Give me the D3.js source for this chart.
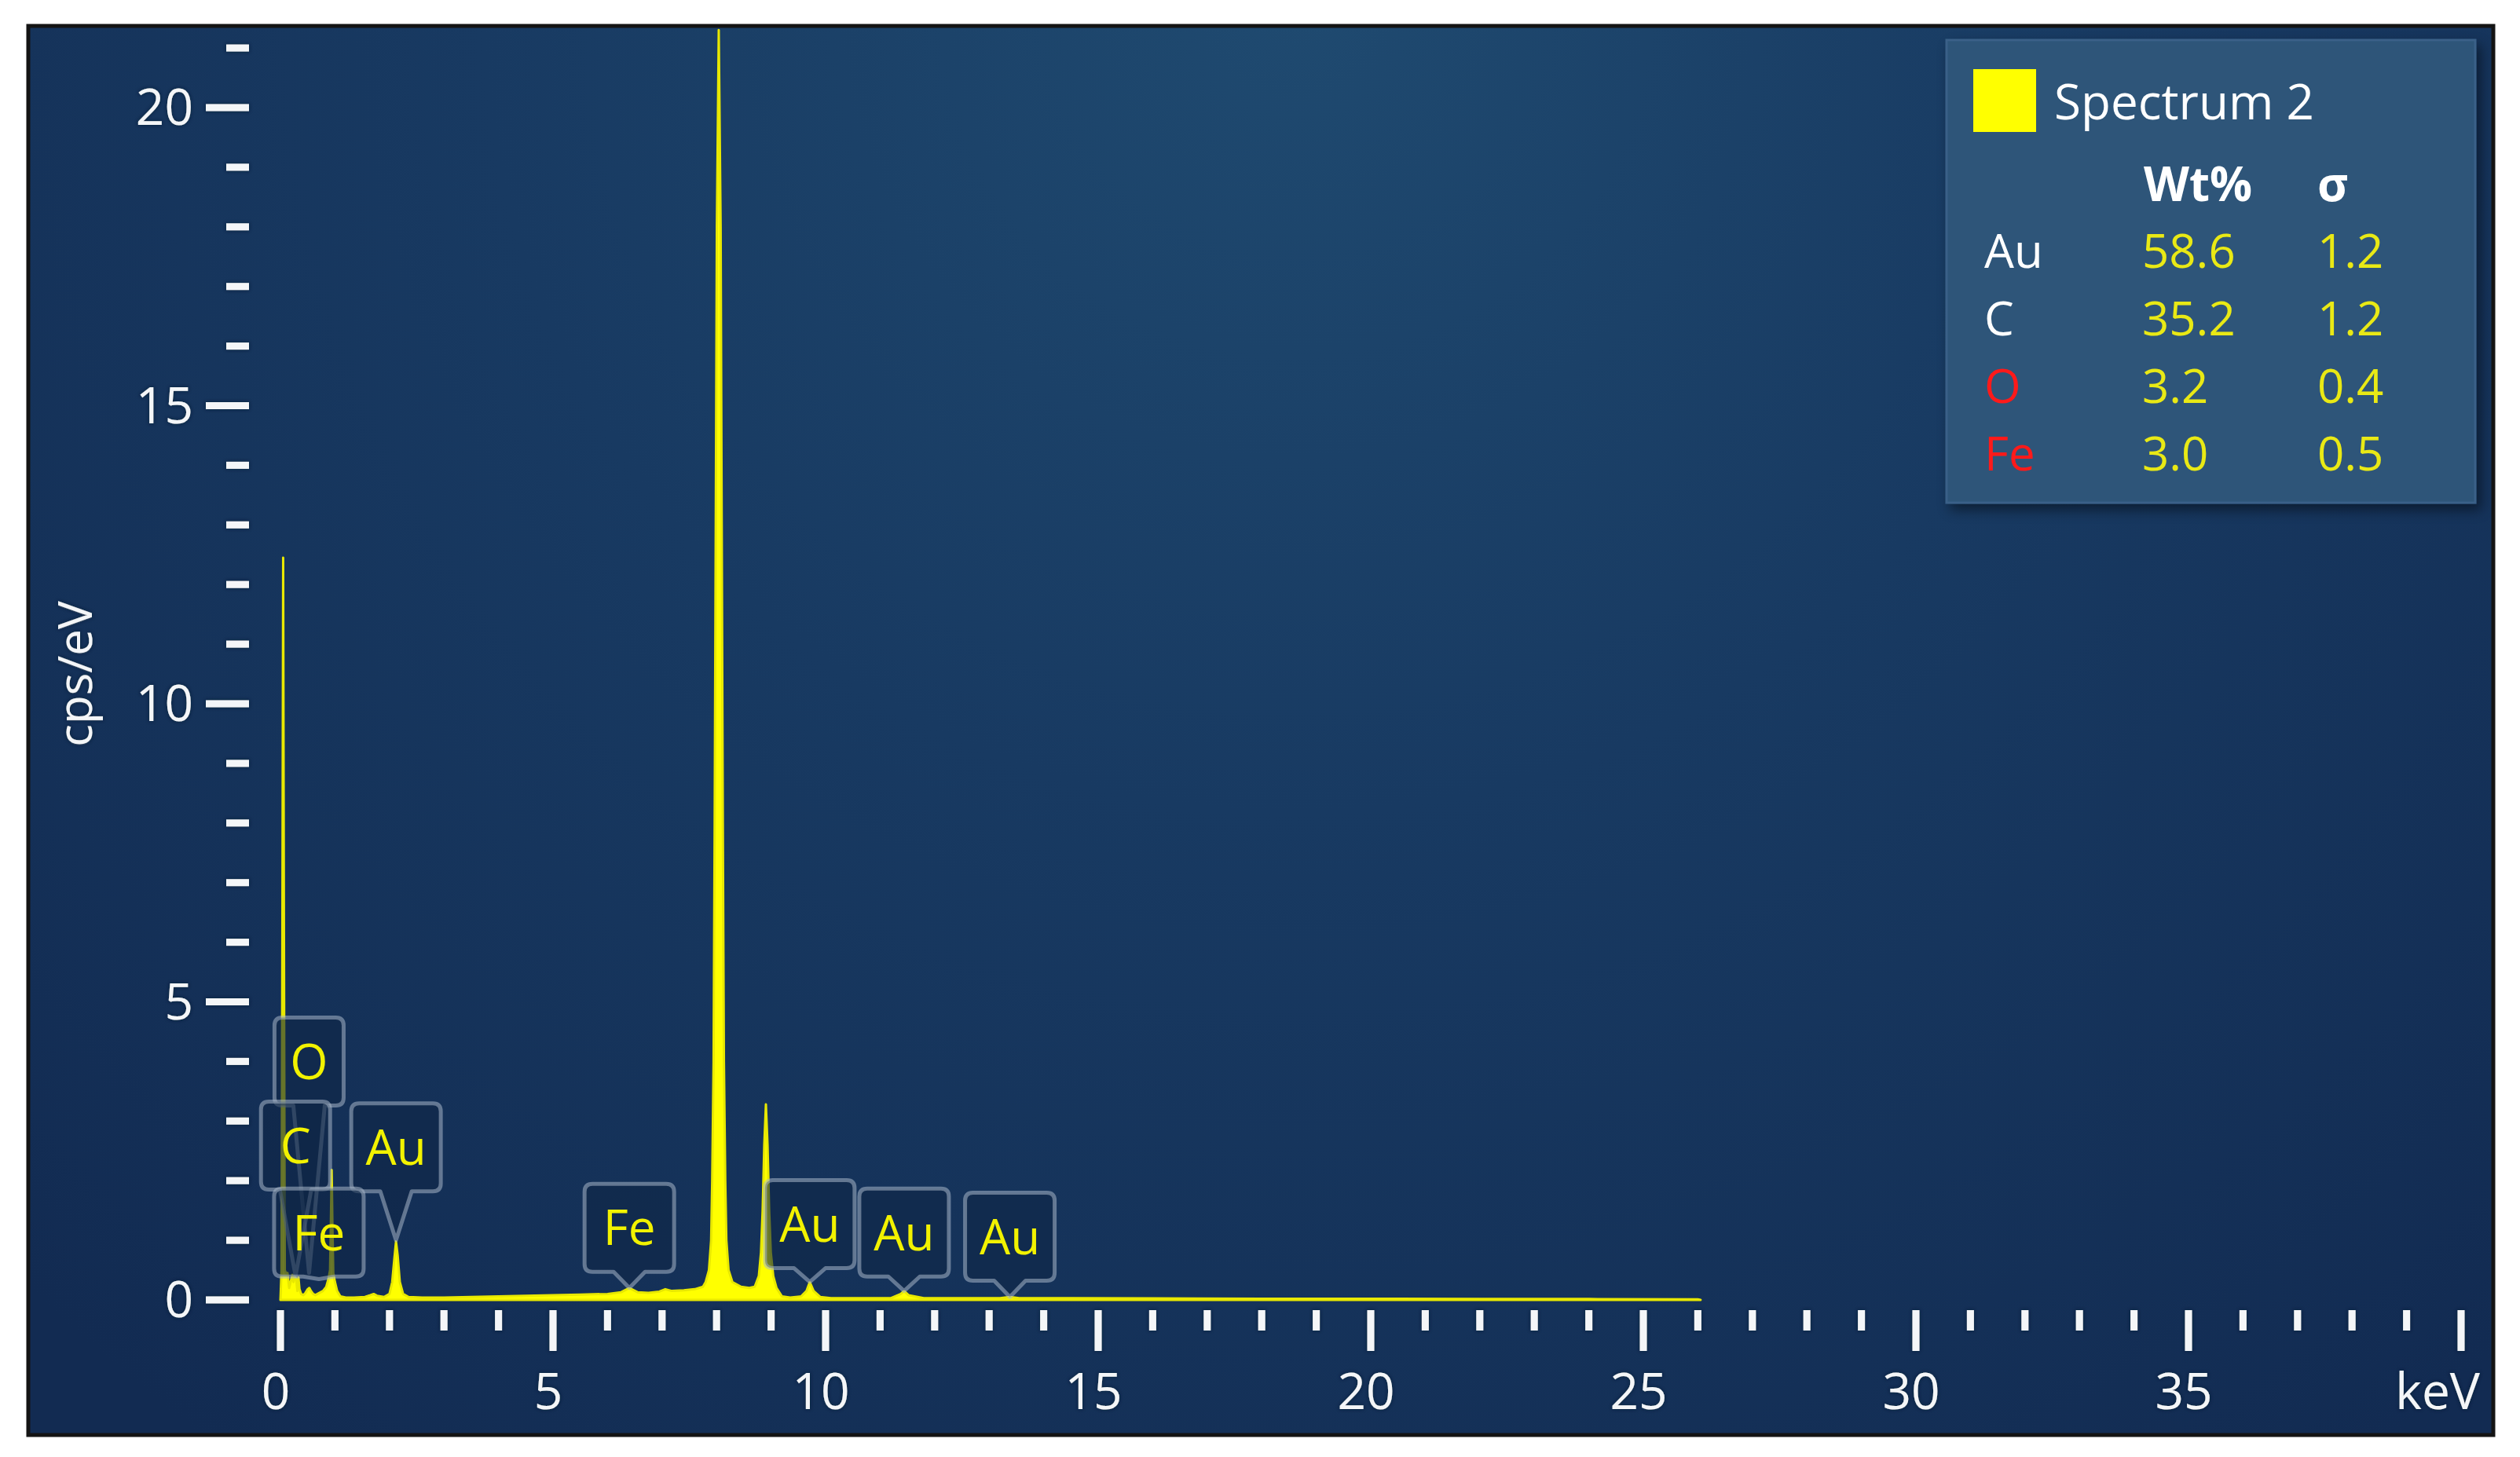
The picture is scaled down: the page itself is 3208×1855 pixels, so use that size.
<!DOCTYPE html>
<html>
<head>
<meta charset="utf-8">
<script src="https://cdn.jsdelivr.net/npm/d3@7"></script>
<style>
  html, body { margin: 0; padding: 0; background: #ffffff; }
  svg { display: block; }
  text { font-family: "Open Sans", "Noto Sans", sans-serif; }
</style>
</head>
<body>
<script>
// ---------- DATA ----------
// spectrum: energy (keV) and intensity (cps/eV)
const energyKeV = [
  0.00, 0.02, 0.035, 0.05, 0.065, 0.08, 0.10, 0.13, 0.16, 0.20, 0.22, 0.24, 0.26, 0.29, 0.31, 0.33, 0.35, 0.38,
  0.42, 0.46, 0.50, 0.53, 0.56, 0.60, 0.64, 0.68, 0.72, 0.78, 0.84, 0.88, 0.91, 0.925, 0.94, 0.955, 0.97, 1.00,
  1.04, 1.10, 1.20, 1.35, 1.55, 1.65, 1.71, 1.77, 1.90, 2.00, 2.05, 2.09, 2.12, 2.15, 2.19, 2.25, 2.35, 2.60,
  3.00, 3.50, 4.00, 4.50, 5.00, 5.50, 6.00, 6.25, 6.40, 6.55, 6.75, 6.95, 7.06, 7.18, 7.40, 7.60, 7.75, 7.80,
  7.86, 7.90, 7.92, 7.945, 7.965, 7.985, 8.005, 8.04, 8.075, 8.095, 8.115, 8.135, 8.16, 8.18, 8.22, 8.29, 8.45,
  8.60, 8.70, 8.775, 8.815, 8.845, 8.875, 8.905, 8.935, 8.965, 8.995, 9.04, 9.10, 9.20, 9.35, 9.55, 9.65, 9.71,
  9.78, 9.90, 10.10, 10.60, 11.20, 11.38, 11.44, 11.52, 11.80, 12.50, 13.20, 13.38, 13.55, 14.50, 16.00, 18.00,
  20.00, 22.00, 24.00, 26.00, 26.05
];
const intensity = [
  0.00, 0.50, 6.00, 12.45, 6.00, 0.50, 0.45, 0.45, 0.20, 0.35, 0.42, 0.30, 0.40, 0.35, 0.15, 0.38, 0.18, 0.10,
  0.08, 0.12, 0.18, 0.20, 0.15, 0.10, 0.08, 0.10, 0.12, 0.15, 0.22, 0.35, 0.50, 1.30, 2.18, 1.20, 0.45, 0.30,
  0.15, 0.06, 0.04, 0.04, 0.05, 0.08, 0.10, 0.07, 0.05, 0.10, 0.30, 0.70, 0.98, 0.75, 0.30, 0.10, 0.05, 0.04,
  0.04, 0.05, 0.06, 0.07, 0.08, 0.09, 0.10, 0.13, 0.20, 0.13, 0.12, 0.14, 0.18, 0.15, 0.16, 0.18, 0.22, 0.30,
  0.50, 1.00, 2.00, 4.00, 8.00, 13.0, 18.0, 21.30, 18.0, 13.0, 8.00, 4.00, 2.00, 1.00, 0.50, 0.30, 0.22,
  0.20, 0.22, 0.40, 0.80, 1.50, 2.60, 3.28, 2.60, 1.50, 0.80, 0.40, 0.20, 0.06, 0.04, 0.06, 0.15, 0.30,
  0.15, 0.05, 0.03, 0.03, 0.03, 0.10, 0.15, 0.08, 0.03, 0.03, 0.03, 0.05, 0.03, 0.03, 0.025, 0.02,
  0.02, 0.015, 0.015, 0.01, 0.00
];

// element markers
const markerElement = ["O", "C", "Au", "Fe", "Fe", "Au", "Au", "Au"];
const markerKeV     = [0.525, 0.277, 2.12, 0.705, 6.40, 9.71, 11.44, 13.38];
const markerBoxCps  = [4.00, 2.59, 2.56, 1.13, 1.21, 1.27, 1.13, 1.06];
const markerTipCps  = [0.45, 0.40, 1.00, 0.35, 0.20, 0.30, 0.15, 0.05];

// legend / quant table
const legendTitle   = "Spectrum 2";
const tableElements = ["Au", "C", "O", "Fe"];
const tableWt       = ["58.6", "35.2", "3.2", "3.0"];
const tableSigma    = ["1.2", "1.2", "0.4", "0.5"];
const tableElemColor = ["#ffffff", "#ffffff", "#ff1a1a", "#ff1a1a"];

// axes
const xMajorTicks = [0, 5, 10, 15, 20, 25, 30, 35];
const xMinorTicks = d3.range(1, 40).filter(v => v % 5 !== 0);
const yMajorTicks = [0, 5, 10, 15, 20];
const yMinorTicks = d3.range(1, 22).filter(v => v % 5 !== 0);
const xUnit = "keV";
const yTitle = "cps/eV";

// ---------- LAYOUT ----------
const W = 3208, H = 1855;
const frame = {x: 36, y: 33, w: 3138, h: 1794};

const svg = d3.select("body").append("svg").attr("width", W).attr("height", H);
const defs = svg.append("defs");

const grad = defs.append("radialGradient").attr("id", "bg")
  .attr("gradientUnits", "userSpaceOnUse")
  .attr("cx", 1650).attr("cy", 0).attr("r", 2300)
  .attr("fx", 1650).attr("fy", 0);
grad.append("stop").attr("offset", "0%").attr("stop-color", "#1f4a70");
grad.append("stop").attr("offset", "45%").attr("stop-color", "#183a62");
grad.append("stop").attr("offset", "100%").attr("stop-color", "#122b52");

defs.append("clipPath").attr("id", "clip").append("rect")
  .attr("x", frame.x).attr("y", frame.y).attr("width", frame.w).attr("height", frame.h);

const shadow = defs.append("filter").attr("id", "shadow").attr("x", "-10%").attr("y", "-10%").attr("width", "125%").attr("height", "125%");
shadow.append("feDropShadow").attr("dx", 6).attr("dy", 8).attr("stdDeviation", 8).attr("flood-color", "#000").attr("flood-opacity", 0.45);

const glow = defs.append("filter").attr("id", "glow").attr("x", "-50%").attr("y", "-50%").attr("width", "200%").attr("height", "200%");
glow.append("feDropShadow").attr("dx", 0).attr("dy", 0).attr("stdDeviation", 2).attr("flood-color", "#0a1a33").attr("flood-opacity", 0.9);

// frame
svg.append("rect").attr("x", frame.x).attr("y", frame.y).attr("width", frame.w).attr("height", frame.h)
  .attr("fill", "url(#bg)").attr("stroke", "#141414").attr("stroke-width", 5);

const g = svg.append("g").attr("clip-path", "url(#clip)");

// scales
const x = d3.scaleLinear().domain([0, 40]).range([357, 3133]);
const y = d3.scaleLinear().domain([0, 20]).range([1655, 137]);

// ---------- SPECTRUM ----------
const pts = energyKeV.map((e, i) => [e, intensity[i]]);
const area = d3.area().x(d => x(d[0])).y0(y(0)).y1(d => y(d[1])).curve(d3.curveLinear);
g.append("path").datum(pts).attr("d", area).attr("fill", "#ffff00").attr("stroke", "#e8e800").attr("stroke-width", 3)
  .attr("stroke-linejoin", "round");

// ---------- AXES ----------
const tickColor = "#f4f6f8";
const axisG = svg.append("g").attr("filter", "url(#glow)");

// y ticks
const yTickRight = 317;
axisG.selectAll(".ymaj").data(yMajorTicks).join("line")
  .attr("x1", yTickRight - 55).attr("x2", yTickRight)
  .attr("y1", d => y(d)).attr("y2", d => y(d))
  .attr("stroke", tickColor).attr("stroke-width", 9);
axisG.selectAll(".ymin").data(yMinorTicks).join("line")
  .attr("x1", yTickRight - 29).attr("x2", yTickRight)
  .attr("y1", d => y(d)).attr("y2", d => y(d))
  .attr("stroke", tickColor).attr("stroke-width", 9);
axisG.selectAll(".ylab").data(yMajorTicks).join("text")
  .attr("x", 246).attr("y", d => y(d)).attr("dy", "0.35em")
  .attr("text-anchor", "end").attr("fill", tickColor)
  .attr("font-size", 64).text(d => d);

// x ticks
const xTickTop = 1668;
axisG.selectAll(".xmaj").data(xMajorTicks.concat([40])).join("line")
  .attr("x1", d => x(d)).attr("x2", d => x(d))
  .attr("y1", xTickTop).attr("y2", xTickTop + 52)
  .attr("stroke", tickColor).attr("stroke-width", 9);
axisG.selectAll(".xmin").data(xMinorTicks).join("line")
  .attr("x1", d => x(d)).attr("x2", d => x(d))
  .attr("y1", xTickTop).attr("y2", xTickTop + 26)
  .attr("stroke", tickColor).attr("stroke-width", 9);
axisG.selectAll(".xlab").data(xMajorTicks).join("text")
  .attr("x", d => x(d) - 6).attr("y", 1772).attr("dy", "0.35em")
  .attr("text-anchor", "middle").attr("fill", tickColor)
  .attr("font-size", 64).text(d => d);
axisG.append("text").attr("x", x(40) + 24).attr("y", 1772).attr("dy", "0.35em")
  .attr("text-anchor", "end").attr("fill", tickColor).attr("font-size", 64).text(xUnit);

// y title
axisG.append("text")
  .attr("transform", `translate(96, ${y(10.5)}) rotate(-90)`)
  .attr("dy", "0.35em").attr("text-anchor", "middle")
  .attr("fill", tickColor).attr("font-size", 60).text(yTitle);

// ---------- MARKERS ----------
const markG = svg.append("g").attr("clip-path", "url(#clip)");
const boxH = 112, r = 10, hw = 20;
markerElement.forEach((el, i) => {
  const cx = x(markerKeV[i]);
  const cy = y(markerBoxCps[i]);
  const bw = el.length === 1 ? 88 : 114;
  const L = cx - bw / 2, R = cx + bw / 2, T = cy - boxH / 2, B = cy + boxH / 2;
  const tipY = y(markerTipCps[i]);
  const path = `M${L + r},${T} H${R - r} Q${R},${T} ${R},${T + r} V${B - r} Q${R},${B} ${R - r},${B}
    H${cx + hw} L${cx},${tipY} L${cx - hw},${B} H${L + r} Q${L},${B} ${L},${B - r} V${T + r} Q${L},${T} ${L + r},${T} Z`;
  markG.append("path").attr("d", path)
    .attr("fill", "#0f2646").attr("fill-opacity", 0.6)
    .attr("stroke", "#a7b6c8").attr("stroke-opacity", 0.55).attr("stroke-width", 5)
    .attr("stroke-linejoin", "round");
  markG.append("text").attr("x", cx).attr("y", cy).attr("dy", "0.36em")
    .attr("text-anchor", "middle").attr("fill", "#f2f200").attr("font-size", 62).text(el);
});

// ---------- LEGEND ----------
const lg = svg.append("g");
const LX = 2478, LY = 51, LW = 673, LH = 589;
lg.append("rect").attr("x", LX).attr("y", LY).attr("width", LW).attr("height", LH)
  .attr("fill", "#2d5479").attr("stroke", "#3a6088").attr("stroke-width", 3).attr("filter", "url(#shadow)");
lg.append("rect").attr("x", 2512).attr("y", 88).attr("width", 80).attr("height", 80).attr("fill", "#ffff00");
lg.append("text").attr("x", 2615).attr("y", 130).attr("dy", "0.36em").attr("fill", "#ffffff")
  .attr("font-size", 62).text(legendTitle);
lg.append("text").attr("x", 2798).attr("y", 234).attr("dy", "0.36em").attr("fill", "#ffffff")
  .attr("font-size", 60).attr("font-weight", "bold").attr("text-anchor", "middle").text("Wt%");
lg.append("text").attr("x", 2950).attr("y", 234).attr("dy", "0.36em").attr("fill", "#ffffff")
  .attr("font-size", 60).attr("font-weight", "bold").text("σ");
const rowY = [319, 405, 491, 577];
tableElements.forEach((el, i) => {
  lg.append("text").attr("x", 2526).attr("y", rowY[i]).attr("dy", "0.36em")
    .attr("fill", tableElemColor[i]).attr("font-size", 60).text(el);
  lg.append("text").attr("x", 2727).attr("y", rowY[i]).attr("dy", "0.36em")
    .attr("fill", "#e9e915").attr("font-size", 60).text(tableWt[i]);
  lg.append("text").attr("x", 2950).attr("y", rowY[i]).attr("dy", "0.36em")
    .attr("fill", "#e9e915").attr("font-size", 60).text(tableSigma[i]);
});
</script>
</body>
</html>
